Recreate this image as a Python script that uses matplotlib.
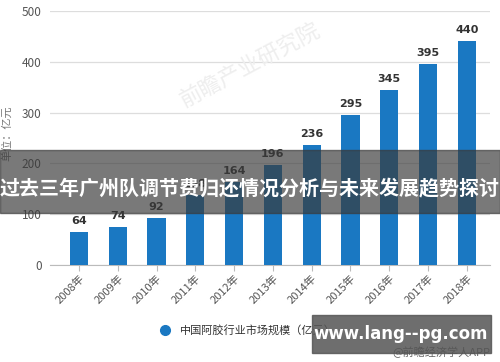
import matplotlib
matplotlib.use("Agg")
import matplotlib.pyplot as plt
from matplotlib.patches import Rectangle
from matplotlib.lines import Line2D

plt.rcParams['font.family'] = ['Noto Sans CJK SC', 'DejaVu Sans']

years = ['2008年', '2009年', '2010年', '2011年', '2012年', '2013年',
         '2014年', '2015年', '2016年', '2017年', '2018年']
values = [64, 74, 92, 138, 164, 196, 236, 295, 345, 395, 440]
y_ticks = [0, 100, 200, 300, 400, 500]

title = '过去三年广州队调节费归还情况分析与未来发展趋势探讨'
series_name = '中国阿胶行业市场规模（亿元）'
site = 'www.lang--pg.com'

fig = plt.figure(figsize=(5, 3.62), dpi=100)
ax = fig.add_axes([0.1, 0.268, 0.88, 0.702])

x = list(range(len(years)))
bars = ax.bar(x, values, width=0.47, color='#1a78c2', zorder=3)
for xi, v in zip(x, values):
    ax.text(xi, v + 12, str(v), ha='center', va='bottom', fontsize=8,
            fontweight='bold', color='#333333', family='DejaVu Sans')

ax.set_ylim(0, 500)
ax.set_xlim(-0.75, len(years) - 0.4)
ax.set_yticks(y_ticks)
ax.set_yticklabels([str(t) for t in y_ticks], fontsize=8.5, color='#555555')
ax.set_xticks(x)
ax.set_xticklabels(years, rotation=45, ha='right', rotation_mode='anchor',
                   fontsize=8, color='#555555')
ax.grid(axis='y', color='#dddddd', linewidth=0.9, zorder=0)
for s in ['top', 'right', 'left']:
    ax.spines[s].set_visible(False)
ax.spines['bottom'].set_color('#bbbbbb')
ax.tick_params(axis='y', length=0, pad=6)
ax.tick_params(axis='x', length=4, color='#bbbbbb', pad=2)
ax.set_ylabel('单位：亿元', fontsize=8, color='#777777', labelpad=6)
ax.yaxis.set_label_coords(-0.085, 0.52)

# faint source watermark
fig.text(0.5, 0.82, '前瞻产业研究院', fontsize=16, color='#eeeeee',
         rotation=28, ha='center', va='center', zorder=0)

# legend
handle = Line2D([], [], marker='o', linestyle='', color='#1a78c2', markersize=7)
fig.legend(handles=[handle], labels=[series_name], loc='center',
           bbox_to_anchor=(0.49, 0.088), frameon=False, fontsize=8,
           handletextpad=0.3, labelcolor='#333333')

# dark title banner
fig.patches.append(Rectangle((0, 1 - 213 / 362), 1, 63 / 362,
                             transform=fig.transFigure, color='#3a3a3a',
                             alpha=0.68, zorder=10))
fig.text(0.5, 1 - 188 / 362, title, ha='center', va='center', fontsize=14.4,
         fontweight='bold', color='white', zorder=11)

# site watermark box
fig.text(0.98, 1 - 352 / 362, '@前瞻经济学人APP', ha='right', va='center',
         fontsize=8, color='#666666', zorder=9)
fig.patches.append(Rectangle((312 / 500, 1 - 353 / 362), 179 / 500, 38 / 362,
                             transform=fig.transFigure, color='#555555',
                             alpha=0.85, zorder=10))
fig.text(401 / 500, 1 - 334 / 362, site, ha='center', va='center',
         fontsize=12, fontweight='bold', color='white', zorder=11,
         family='DejaVu Sans')

fig.savefig('out.png', dpi=100)
